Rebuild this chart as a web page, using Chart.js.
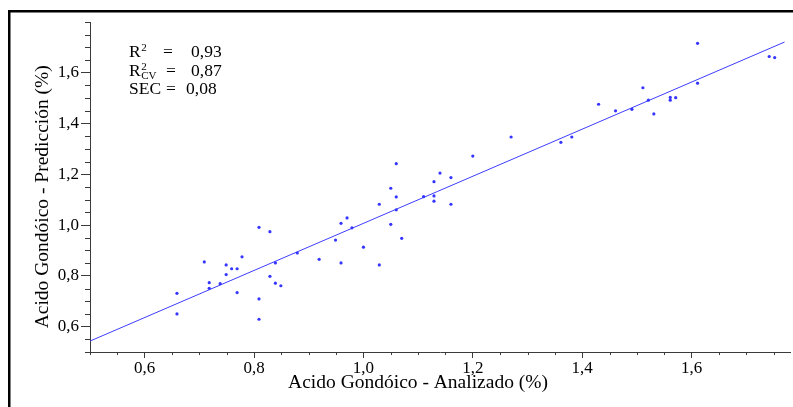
<!DOCTYPE html>
<html><head><meta charset="utf-8">
<script src="https://cdn.jsdelivr.net/npm/chart.js@4/dist/chart.umd.min.js"></script>
<style>html,body{margin:0;padding:0;background:#fff;}#wrap{width:793px;height:407px;position:relative;}canvas{display:block;}</style>
</head><body><div id="wrap"><canvas id="c" width="793" height="407"></canvas></div>
<script>
// Analizado (x) and Predicción (y) values
const analizado = [0.659,0.659,0.709,0.718,0.718,0.738,0.749,0.749,0.759,0.769,0.769,0.778,0.809,0.809,0.809,0.829,0.829,0.839,0.839,0.849,0.879,0.919,0.949,0.959,0.959,0.970,0.979,1.000,1.029,1.029,1.050,1.050,1.060,1.060,1.060,1.070,1.110,1.129,1.129,1.129,1.140,1.160,1.160,1.200,1.270,1.361,1.381,1.430,1.461,1.491,1.511,1.521,1.531,1.561,1.561,1.571,1.611,1.611,1.742,1.752];
const prediccion = [0.731,0.650,0.855,0.773,0.751,0.769,0.843,0.805,0.828,0.828,0.734,0.875,0.991,0.709,0.629,0.974,0.798,0.851,0.771,0.761,0.890,0.865,0.941,1.007,0.851,1.028,0.989,0.913,1.082,0.843,1.145,1.003,1.242,1.111,1.060,0.948,1.112,1.171,1.115,1.094,1.205,1.187,1.082,1.272,1.347,1.326,1.347,1.476,1.450,1.456,1.541,1.492,1.438,1.503,1.492,1.502,1.716,1.559,1.664,1.660];
// regression line end points
const fitX = [0.5, 1.77];
const fitY = [0.543, 1.721];
// tick labels
const xTickValues = [0.6,0.8,1.0,1.2,1.4,1.6];
const xTickLabels = ['0,6','0,8','1,0','1,2','1,4','1,6'];
const yTickValues = [0.6,0.8,1.0,1.2,1.4,1.6];
const yTickLabels = ['0,6','0,8','1,0','1,2','1,4','1,6'];
const minorStep = 0.05;
// statistics text
const statNames = ['R', 'R', 'SEC'];
const statSup = ['2', '2', ''];
const statSub = ['', 'CV', ''];
const statValues = ['0,93', '0,87', '0,08'];

const serif = "'Liberation Serif','Times New Roman',serif";
const axisColor = '#3a3a3a';

const points = analizado.map((x,i)=>({x:x, y:prediccion[i]}));
const fitLine = fitX.map((x,i)=>({x:x, y:fitY[i]}));

const extras = {
  id:'extras',
  beforeDraw(chart){
    const ctx = chart.ctx;
    ctx.save();
    ctx.strokeStyle = '#000';
    ctx.lineWidth = 2.5;
    ctx.beginPath();
    ctx.moveTo(9.25, 407);
    ctx.lineTo(9.25, 11.25);
    ctx.lineTo(793, 11.25);
    ctx.stroke();
    ctx.restore();
  },
  afterDraw(chart){
    const ctx = chart.ctx;
    const xs = chart.scales.x, ys = chart.scales.y;
    const ca = chart.chartArea;
    ctx.save();
    ctx.strokeStyle = axisColor;
    ctx.lineWidth = 1;
    ctx.beginPath();
    for (let k = 0; ; k++) {
      const v = +(xs.min + k*minorStep).toFixed(3);
      if (v > xs.max + 1e-9) break;
      if (xTickValues.some(t=>Math.abs(t-v)<1e-6)) continue;
      const px = Math.round(xs.getPixelForValue(v)) + 0.5;
      ctx.moveTo(px, ca.bottom);
      ctx.lineTo(px, ca.bottom + 3);
    }
    for (let k = 0; ; k++) {
      const v = +(ys.min + k*minorStep).toFixed(3);
      if (v > ys.max + 1e-9) break;
      if (yTickValues.some(t=>Math.abs(t-v)<1e-6)) continue;
      const py = Math.round(ys.getPixelForValue(v)) + 0.5;
      ctx.moveTo(ca.left, py);
      ctx.lineTo(ca.left - 5, py);
    }
    ctx.stroke();
    // statistics box
    ctx.fillStyle = '#000';
    ctx.textBaseline = 'alphabetic';
    const baseY = [57, 75.5, 94];
    const eqX = [163, 166, 166];
    const valX = [191, 191, 186];
    for (let i = 0; i < statNames.length; i++) {
      ctx.font = '17.5px ' + serif;
      ctx.fillText(statNames[i], 129, baseY[i]);
      const w = ctx.measureText(statNames[i]).width;
      if (statSup[i]) {
        ctx.font = '11px ' + serif;
        ctx.fillText(statSup[i], 129 + w + 0.5, baseY[i] - 6);
      }
      if (statSub[i]) {
        ctx.font = '11px ' + serif;
        ctx.fillText(statSub[i], 129 + w + 0.5, baseY[i] + 3);
      }
      ctx.font = '17.5px ' + serif;
      ctx.fillText('=', eqX[i], baseY[i]);
      ctx.fillText(statValues[i], valX[i], baseY[i]);
    }
    ctx.restore();
  }
};

new Chart(document.getElementById('c'), {
  type: 'scatter',
  data: {
    datasets: [
      {data: points, pointRadius: 1.6, pointHoverRadius: 1.6, pointBackgroundColor: '#3535ff', pointBorderWidth: 0, showLine: false, order: 1},
      {data: fitLine, showLine: true, pointRadius: 0, borderColor: '#3d3dff', borderWidth: 1, fill: false, order: 2}
    ]
  },
  options: {
    responsive: false,
    animation: false,
    devicePixelRatio: 1,
    layout: {padding: {left: 0, right: 3, top: 22, bottom: 0}},
    plugins: {legend: {display: false}, tooltip: {enabled: false}},
    scales: {
      x: {
        type: 'linear', min: 0.5, max: 1.78,
        afterBuildTicks: s => { s.ticks = xTickValues.map(v=>({value:v})); },
        afterFit: s => { s.height = 55; },
        ticks: {
          callback: v => { const i = xTickValues.findIndex(t=>Math.abs(t-v)<1e-6); return i>=0 ? xTickLabels[i] : ''; },
          font: {family: serif, size: 17}, color: '#000', padding: 0, maxRotation: 0, autoSkip: false
        },
        grid: {drawOnChartArea: false, tickLength: 6, tickColor: axisColor, color: axisColor},
        border: {color: axisColor, width: 1},
        title: {display: true, text: 'Acido Gondóico - Analizado (%)\u2002\u2002\u2002\u2002 ', font: {family: serif, size: 19.5}, color: '#000', padding: {top: 0, bottom: 12}}
      },
      y: {
        type: 'linear', min: 0.5, max: 1.8,
        afterBuildTicks: s => { s.ticks = yTickValues.map(v=>({value:v})); },
        afterFit: s => { s.width = 90; },
        ticks: {
          callback: v => { const i = yTickValues.findIndex(t=>Math.abs(t-v)<1e-6); return i>=0 ? yTickLabels[i] : ''; },
          font: {family: serif, size: 17}, color: '#000', padding: 2, autoSkip: false
        },
        grid: {drawOnChartArea: false, tickLength: 9, tickColor: axisColor, color: axisColor},
        border: {color: axisColor, width: 1},
        title: {display: true, text: 'Acido Gondóico - Predicción (%)\u2002\u2002', font: {family: serif, size: 19.5}, color: '#000', padding: {top: 31, bottom: 0}}
      }
    }
  },
  plugins: [extras]
});
</script>
</body></html>
